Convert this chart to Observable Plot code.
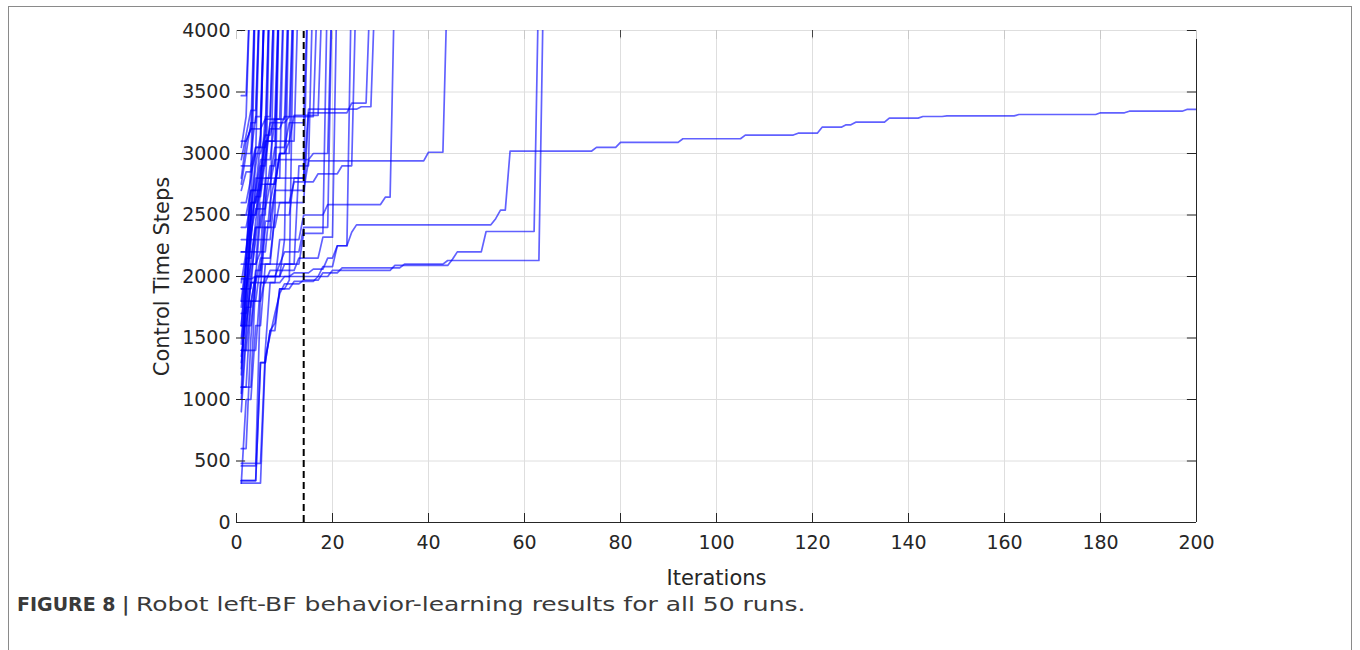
<!DOCTYPE html>
<html><head><meta charset="utf-8">
<script src="https://cdn.jsdelivr.net/npm/d3@7"></script>
<script src="https://cdn.jsdelivr.net/npm/@observablehq/plot@0.6"></script>
<style>
body{margin:0;background:#fff;}
#wrap{position:relative;width:1360px;height:650px;overflow:hidden;background:#fff;}
#frame{position:absolute;left:8px;top:6px;width:1344px;height:700px;border:1px solid #8a8a8a;box-sizing:border-box;}
#chart{position:absolute;left:0;top:0;}
#caption{position:absolute;left:17px;top:592px;font-family:"DejaVu Sans";font-size:19px;color:#3a3a3a;white-space:nowrap;}
#caption .rest{display:inline-block;margin-left:7px;font-size:20px;transform:scaleX(1.25);transform-origin:0 50%;}
#chart g[aria-label="x-axis label"], #chart g[aria-label="y-axis label"]{font-size:21px;}
</style></head><body>
<div id="wrap"><div id="frame"></div><div id="chart"></div>
<div id="caption"><b>FIGURE 8 |</b><span class="rest">Robot left-BF behavior-learning results for all 50 runs.</span></div></div>
<script>
const xTicks = [0,20,40,60,80,100,120,140,160,180,200];
const yTicks = [0,500,1000,1500,2000,2500,3000,3500,4000];
const darkTopTicks = [80,120];
const dashedIteration = [14];

// each run: [iteration, control time steps] at change points; 4500 = beyond the plotted range
const earlyRuns = [
  [[1,4000],[2,4500]],
  [[1,3470],[3,4500]],
  [[1,3050],[2,3300],[3,4500]],
  [[1,1600],[2,2100],[3,2900],[4,4500]],
  [[1,1250],[2,1900],[3,2400],[4,4500]],
  [[1,2800],[2,3100],[3,3200],[4,4500]],
  [[1,1200],[2,1800],[3,2500],[4,3000],[5,4500]],
  [[1,3000],[3,3250],[5,4500]],
  [[1,2950],[2,3150],[3,3350],[5,4500]],
  [[1,1750],[2,2100],[3,2500],[4,2900],[5,3150],[6,4500]],
  [[1,1050],[2,2200],[3,2700],[5,3100],[6,4500]],
  [[1,2600],[3,2800],[4,3050],[6,4500]],
  [[1,2750],[2,3000],[4,3300],[6,4500]],
  [[1,1350],[2,1700],[3,2100],[4,2450],[5,2750],[6,3200],[7,4500]],
  [[1,900],[2,1500],[3,2000],[4,2300],[5,2700],[6,3000],[7,4500]],
  [[1,600],[3,1500],[4,2000],[5,2500],[7,4500]],
  [[1,1500],[2,1900],[3,2300],[4,2800],[6,3300],[8,4500]],
  [[1,2500],[3,2700],[5,2950],[7,3250],[8,4500]],
  [[1,460],[5,1900],[6,2400],[8,4500]],
  [[1,1300],[2,1750],[4,2050],[6,2600],[7,2900],[9,4500]],
  [[1,2700],[2,2850],[4,3000],[6,3150],[8,3300],[9,4500]],
  [[1,1950],[2,2200],[3,2500],[5,2850],[6,3100],[9,4500]],
  [[1,320],[2,1000],[4,1600],[6,2100],[8,2500],[9,4500]],
  [[1,1900],[3,2100],[5,2200],[7,2600],[8,2800],[10,4500]],
  [[1,1600],[2,2050],[3,2450],[4,2650],[6,2950],[8,3280],[10,4500]],
  [[1,1100],[3,1800],[4,2000],[6,2450],[8,2700],[9,3000],[11,4500]],
  [[1,480],[6,1400],[7,1950],[9,2300],[11,4500]],
  [[1,3100],[3,3200],[6,3280],[11,4500]],
  [[1,340],[5,1300],[7,1560],[8,1620],[9,1900],[11,1970],[12,4500]],
  [[1,1450],[2,1900],[3,2350],[4,2550],[7,2750],[9,3000],[12,4500]],
  [[1,2900],[4,3050],[7,3200],[10,3300],[12,4500]]
];
const midRuns = [
  [[1,1800],[2,2150],[4,2400],[6,2750],[9,3000],[11,3100],[13,4500]],
  [[1,2400],[3,2600],[5,2800],[8,3050],[11,3250],[15,4500]],
  [[1,1000],[2,1600],[3,1950],[5,2150],[8,2500],[12,2800],[15,4500]],
  [[1,1100],[4,2000],[9,2100],[13,2900],[16,4500]],
  [[1,2200],[3,2600],[5,2900],[7,3250],[11,3300],[17,4500]],
  [[1,2300],[4,2700],[6,3100],[12,3310],[18,4500]],
  [[1,1400],[3,1800],[6,2000],[10,2100],[14,2350],[19,4500]],
  [[1,1800],[5,2100],[10,2200],[14,2400],[20,4500]],
  [[1,2500],[5,2750],[8,2950],[16,3000],[20,4500]]
];
const lateRuns = [
  [[1,1600],[3,1950],[7,2050],[13,2150],[18,2320],[21,4500]],
  [[1,1400],[5,1950],[10,2000],[18,2080],[21,2250],[24,4500]],
  [[1,2100],[5,2600],[12,2770],[17,2835],[22,2900],[25,4500]],
  [[1,1900],[4,2400],[9,2600],[15,3330],[24,3410],[28,4500]],
  [[1,2200],[6,2800],[15,3360],[26,3380],[29,4500]],
  [[1,1600],[4,2000],[10,2300],[14,2500],[19,2585],[31,2645],[33,4500]],
  [[1,1700],[3,2300],[8,2700],[15,2940],[40,3010],[44,4500]],
  [[1,340],[5,1300],[7,1560],[9,1900],[12,1960],[17,2000],[20,2050],[33,2090],[45,2140],[46,2200],[52,2366],[63,4500]],
  [[1,320],[6,1340],[7,1520],[8,1700],[9,1860],[10,1940],[14,1970],[18,2030],[22,2070],[35,2100],[44,2130],[64,4500]]
];
const longRun = [
  [1,1980],[4,2000],[12,2030],[16,2060],[19,2150],[21,2250],[24,2360],[25,2420],[54,2470],[55,2540],[57,3020],
  [75,3050],[80,3090],[93,3120],[106,3150],[117,3165],[122,3214],[127,3233],[129,3255],[136,3288],[143,3301],
  [148,3306],[163,3317],[180,3331],[186,3344],[198,3358],[200,3358]
];

// each run is a per-iteration step series: a value holds until the iteration before the next change
const allRuns = [...earlyRuns, ...midRuns, ...lateRuns, longRun];
const rows = [];
allRuns.forEach((r, i) => {
  r.forEach(([iteration, steps], j) => {
    if (j > 0) {
      const [prevIt, prevSteps] = r[j - 1];
      if (iteration - 1 > prevIt) rows.push({run: i, iteration: iteration - 1, steps: prevSteps});
    }
    rows.push({run: i, iteration, steps});
  });
});

const ink = "#262626";
const chart = Plot.plot({
  width: 1360, height: 580,
  marginLeft: 236, marginRight: 164, marginTop: 30, marginBottom: 58,
  x: {domain: [0, 200]},
  y: {domain: [0, 4000]},
  style: {fontFamily: "DejaVu Sans", fontSize: "19px", color: ink, background: "transparent", overflow: "visible"},
  marks: [
    Plot.ruleX(xTicks.filter(d => d > 0 && d < 200), {stroke: "#dedede", strokeWidth: 1}),
    Plot.ruleY(yTicks.filter(d => d > 0), {stroke: "#dedede", strokeWidth: 1}),
    Plot.line(rows, {x: "iteration", y: "steps", z: "run", curve: "linear",
      stroke: "#0000ff", strokeOpacity: 0.62, strokeWidth: 1.7, clip: true}),
    Plot.ruleX(dashedIteration, {y1: 0, y2: 4000, stroke: "#000", strokeWidth: 2, strokeDasharray: "7,4"}),
    Plot.ruleY([0], {stroke: ink}),
    Plot.ruleX([200], {stroke: ink}),
    Plot.ruleY(yTicks, {x1: 0, x2: 1.9, stroke: ink}),
    Plot.ruleY(yTicks, {x1: 198.1, x2: 200, stroke: ink}),
    Plot.ruleX(xTicks, {y1: 0, y2: 73, stroke: ink}),
    Plot.ruleX(xTicks, {y1: 3927, y2: 4000, stroke: "#c8c8c8"}),
    Plot.ruleX(darkTopTicks, {y1: 3940, y2: 4000, stroke: "#444"}),
    Plot.axisX({ticks: xTicks, tickSize: 0, tickPadding: 13, tickFormat: "d",
      label: "Iterations", labelAnchor: "center", labelArrow: "none", labelOffset: 62}),
    Plot.axisY({ticks: yTicks, tickSize: 0, tickPadding: 6, tickFormat: "d",
      label: "Control Time Steps", labelAnchor: "center", labelArrow: "none", labelOffset: 82})
  ]
});
document.getElementById("chart").appendChild(chart);
</script>
</body></html>
